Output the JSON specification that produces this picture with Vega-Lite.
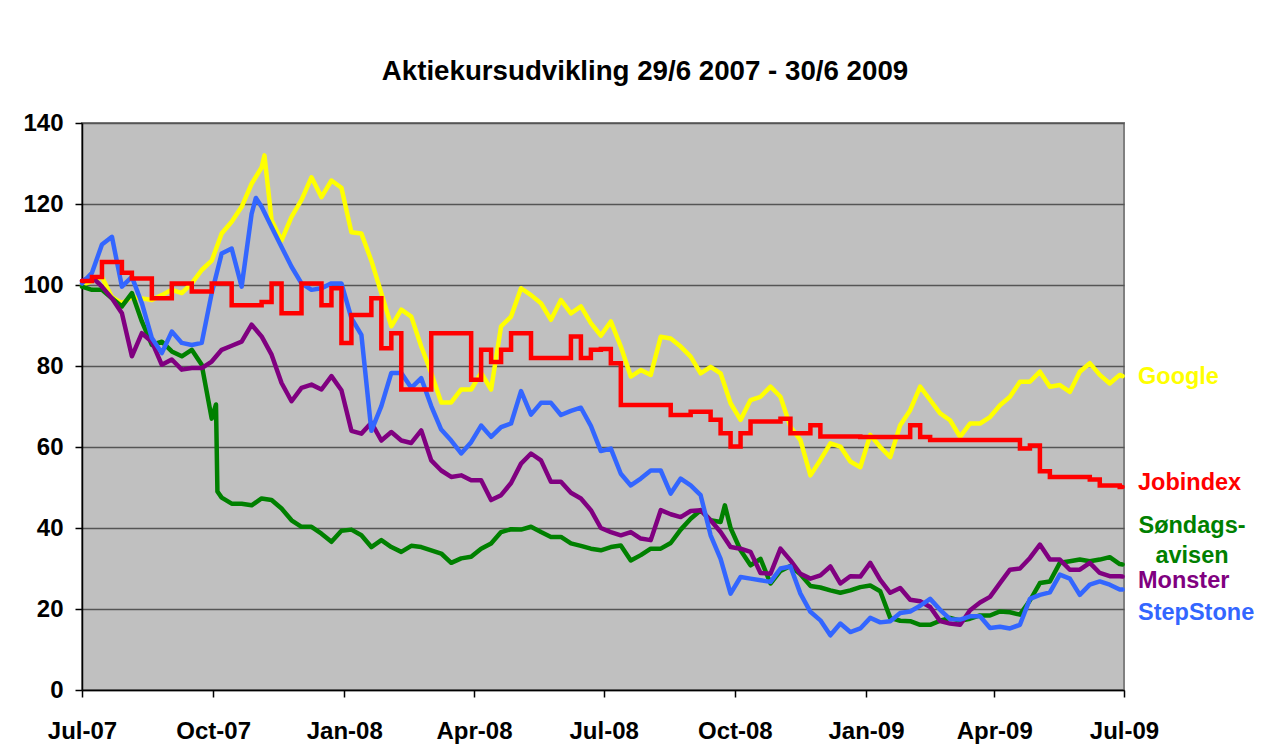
{
  "$schema": "https://vega.github.io/schema/vega-lite/v6.json",
  "width": 1042,
  "height": 567,
  "autosize": {"type": "none"},
  "padding": {"left": 82, "top": 123, "right": 147, "bottom": 65},
  "background": "white",
  "title": {"text": "Aktiekursudvikling 29/6 2007 - 30/6 2009", "font": "Liberation Sans", "fontSize": 27.7, "fontWeight": "bold", "color": "black", "anchor": "middle", "frame": "group", "dx": 42, "offset": 3, "baseline": "alphabetic"},
  "config": {
    "view": {"fill": "#C0C0C0", "stroke": "#808080", "strokeWidth": 2},
    "axis": {"labelFont": "Liberation Sans", "labelFontSize": 24, "labelFontWeight": "bold", "labelColor": "black", "domainColor": "black", "domainWidth": 1.5, "tickColor": "black", "tickWidth": 1.5, "tickSize": 7, "title": null}
  },
  "datasets": {
    "prices": [
      {"d": "2007-07-01", "G": 100, "J": 101, "S": 99.6, "M": 101, "T": 100.4},
      {"d": "2007-07-08", "G": 101, "J": 102, "S": 98.8, "M": 102, "T": 103},
      {"d": "2007-07-15", "G": 102, "J": 105.7, "S": 98.8, "M": 99.6, "T": 110},
      {"d": "2007-07-22", "G": 97, "J": 105.7, "S": 96.7, "M": 96.7, "T": 111.9},
      {"d": "2007-07-29", "G": 95.5, "J": 103, "S": 94.7, "M": 93, "T": 99.6},
      {"d": "2007-08-05", "G": 97, "J": 101.6, "S": 98, "M": 82.4, "T": 102},
      {"d": "2007-08-12", "G": 96.7, "J": 101.6, "S": 91, "M": 88.1, "T": 95.5},
      {"d": "2007-08-19", "G": 96.3, "J": 96.7, "S": 85.2, "M": 86, "T": 86.9},
      {"d": "2007-08-26", "G": 97.5, "J": 96.7, "S": 86, "M": 80.3, "T": 83.2},
      {"d": "2007-09-02", "G": 98.8, "J": 100.4, "S": 83.6, "M": 81.6, "T": 88.5},
      {"d": "2007-09-09", "G": 98, "J": 100.4, "S": 82.4, "M": 79.1, "T": 85.7},
      {"d": "2007-09-16", "G": 100.4, "J": 98.4, "S": 84, "M": 79.5, "T": 85.2},
      {"d": "2007-09-23", "G": 103.7, "J": 98.4, "S": 80.3, "M": 79.5, "T": 85.7},
      {"d": "2007-09-30", "G": 106, "J": 100.4, "S": 67, "M": 81.1, "T": 98},
      {"d": "2007-10-03", "S": 70.5},
      {"d": "2007-10-04", "S": 49},
      {"d": "2007-10-07", "G": 112.7, "J": 100.4, "S": 47.5, "M": 84, "T": 107.8},
      {"d": "2007-10-14", "G": 115.6, "J": 95, "S": 46, "M": 85, "T": 109},
      {"d": "2007-10-21", "G": 119.3, "J": 95, "S": 46, "M": 86, "T": 99.6},
      {"d": "2007-10-28", "G": 125, "J": 95, "S": 45.6, "M": 90.2, "T": 117.6},
      {"d": "2007-10-31", "T": 121.5},
      {"d": "2007-11-04", "G": 129, "J": 95.8, "S": 47.3, "M": 87.3, "T": 119.3},
      {"d": "2007-11-06", "G": 132},
      {"d": "2007-11-11", "G": 116, "J": 100.4, "S": 46.9, "M": 82.8, "T": 114.3},
      {"d": "2007-11-18", "G": 111, "J": 93, "S": 44.8, "M": 75.8, "T": 109.4},
      {"d": "2007-11-25", "G": 116.8, "J": 93, "S": 41.9, "M": 71.3, "T": 104.5},
      {"d": "2007-12-02", "G": 121, "J": 100.4, "S": 40.3, "M": 74.6, "T": 100.4},
      {"d": "2007-12-09", "G": 126.6, "J": 100.4, "S": 40.3, "M": 75.4, "T": 98.8},
      {"d": "2007-12-16", "G": 121.7, "J": 95, "S": 38.6, "M": 74.2, "T": 99.2},
      {"d": "2007-12-23", "G": 125.8, "J": 99.2, "S": 36.6, "M": 77.5, "T": 100.4},
      {"d": "2007-12-30", "G": 124, "J": 85.7, "S": 39.3, "M": 74, "T": 100.4},
      {"d": "2008-01-06", "G": 113, "J": 92.6, "S": 39.6, "M": 64, "T": 91.8},
      {"d": "2008-01-13", "G": 112.7, "J": 92.6, "S": 38.2, "M": 63.3, "T": 87.7},
      {"d": "2008-01-20", "G": 106, "J": 96.7, "S": 35.3, "M": 66, "T": 64},
      {"d": "2008-01-27", "G": 98, "J": 84.4, "S": 37, "M": 61.6, "T": 70.1},
      {"d": "2008-02-03", "G": 89.8, "J": 88.1, "S": 35.3, "M": 63.7, "T": 78.3},
      {"d": "2008-02-10", "G": 93.9, "J": 74.2, "S": 34.1, "M": 61.6, "T": 78.3},
      {"d": "2008-02-17", "G": 92.2, "J": 74.2, "S": 35.6, "M": 61, "T": 74.6},
      {"d": "2008-02-24", "G": 84.8, "J": 74.2, "S": 35.3, "M": 64.1, "T": 77},
      {"d": "2008-03-02", "G": 78.3, "J": 88.1, "S": 34.5, "M": 56.7, "T": 70.1},
      {"d": "2008-03-09", "G": 71, "J": 88.1, "S": 33.7, "M": 54.2, "T": 64.3},
      {"d": "2008-03-16", "G": 71, "J": 88.1, "S": 31.4, "M": 52.6, "T": 61.6},
      {"d": "2008-03-23", "G": 74.2, "J": 88.1, "S": 32.5, "M": 53, "T": 58.4},
      {"d": "2008-03-30", "G": 74.2, "J": 76.6, "S": 32.9, "M": 51.8, "T": 61.2},
      {"d": "2008-04-06", "G": 78.3, "J": 84, "S": 34.9, "M": 51.8, "T": 65.3},
      {"d": "2008-04-13", "G": 74.2, "J": 81, "S": 36.2, "M": 46.9, "T": 62.5},
      {"d": "2008-04-20", "G": 89.8, "J": 84, "S": 39, "M": 48.1, "T": 64.9},
      {"d": "2008-04-27", "G": 92.2, "J": 88.1, "S": 39.7, "M": 51.1, "T": 65.8},
      {"d": "2008-05-04", "G": 99.2, "J": 88.1, "S": 39.6, "M": 55.9, "T": 73.8},
      {"d": "2008-05-11", "G": 97.5, "J": 82, "S": 40.3, "M": 58.4, "T": 68},
      {"d": "2008-05-18", "G": 95.5, "J": 82, "S": 39, "M": 56.7, "T": 70.9},
      {"d": "2008-05-25", "G": 91.4, "J": 82, "S": 37.8, "M": 51.4, "T": 70.9},
      {"d": "2008-06-01", "G": 96.3, "J": 82, "S": 37.8, "M": 51.4, "T": 67.9},
      {"d": "2008-06-08", "G": 93, "J": 87.3, "S": 36.2, "M": 48.7, "T": 68.9},
      {"d": "2008-06-15", "G": 94.7, "J": 82, "S": 35.6, "M": 47.3, "T": 69.7},
      {"d": "2008-06-22", "G": 90.6, "J": 84, "S": 34.9, "M": 44.4, "T": 65.2},
      {"d": "2008-06-29", "G": 87.5, "J": 84.2, "S": 34.5, "M": 40, "T": 59},
      {"d": "2008-07-06", "G": 91, "J": 80.7, "S": 35.3, "M": 39, "T": 59.6},
      {"d": "2008-07-13", "G": 84.8, "J": 70.4, "S": 35.7, "M": 38.2, "T": 53.4},
      {"d": "2008-07-20", "G": 77.4, "J": 70.4, "S": 32, "M": 39, "T": 50.5},
      {"d": "2008-07-27", "G": 79, "J": 70.4, "S": 33.3, "M": 37.4, "T": 52.2},
      {"d": "2008-08-03", "G": 77.8, "J": 70.4, "S": 34.9, "M": 37, "T": 54.2},
      {"d": "2008-08-10", "G": 87.2, "J": 70.4, "S": 34.9, "M": 44.4, "T": 54.2},
      {"d": "2008-08-17", "G": 86.8, "J": 67.9, "S": 36.3, "M": 43.4, "T": 48.5},
      {"d": "2008-08-24", "G": 84.8, "J": 67.9, "S": 39.6, "M": 42.7, "T": 52.2},
      {"d": "2008-08-31", "G": 82.3, "J": 68.7, "S": 42.3, "M": 44.2, "T": 50.5},
      {"d": "2008-09-07", "G": 78.2, "J": 68.7, "S": 44.4, "M": 44.4, "T": 48.1},
      {"d": "2008-09-14", "G": 79.8, "J": 66.7, "S": 41.9, "M": 41.9, "T": 38.2},
      {"d": "2008-09-21", "G": 78.2, "J": 63.4, "S": 41.5, "M": 39, "T": 32.4},
      {"d": "2008-09-24", "S": 45.6},
      {"d": "2008-09-28", "G": 70.8, "J": 60.1, "S": 40, "M": 35.3, "T": 23.8},
      {"d": "2008-10-05", "G": 66.7, "J": 63.4, "S": 34.5, "M": 34.9, "T": 27.9},
      {"d": "2008-10-12", "G": 71.6, "J": 66.3, "S": 30.8, "M": 34.1, "T": 27.5},
      {"d": "2008-10-19", "G": 72.4, "J": 66.3, "S": 32.4, "M": 28.9, "T": 27.1},
      {"d": "2008-10-26", "G": 74.9, "J": 66.3, "S": 26.3, "M": 28.7, "T": 26.7},
      {"d": "2008-11-02", "G": 72.4, "J": 67, "S": 29.4, "M": 34.9, "T": 30},
      {"d": "2008-11-09", "G": 65, "J": 63.4, "S": 30.6, "M": 32, "T": 30.5},
      {"d": "2008-11-16", "G": 61.7, "J": 63.4, "S": 28.6, "M": 28.7, "T": 23.8},
      {"d": "2008-11-23", "G": 53, "J": 65.4, "S": 25.7, "M": 27.5, "T": 19.3},
      {"d": "2008-11-30", "G": 56.8, "J": 62.6, "S": 25.3, "M": 28.3, "T": 17.2},
      {"d": "2008-12-07", "G": 60.9, "J": 62.6, "S": 24.6, "M": 30.5, "T": 13.5},
      {"d": "2008-12-14", "G": 60.1, "J": 62.6, "S": 24, "M": 26.3, "T": 16.4},
      {"d": "2008-12-21", "G": 56.4, "J": 62.6, "S": 24.6, "M": 28.1, "T": 14.3},
      {"d": "2008-12-28", "G": 55, "J": 62.5, "S": 25.4, "M": 28, "T": 15.2},
      {"d": "2009-01-04", "G": 63, "J": 62.5, "S": 25.8, "M": 31.4, "T": 17.8},
      {"d": "2009-01-11", "G": 60, "J": 62.5, "S": 24.4, "M": 27.2, "T": 16.7},
      {"d": "2009-01-18", "G": 57.5, "J": 62.5, "S": 17.8, "M": 24, "T": 17},
      {"d": "2009-01-25", "G": 65.4, "J": 62.5, "S": 17.1, "M": 25.2, "T": 19},
      {"d": "2009-02-01", "G": 69.1, "J": 65.4, "S": 17, "M": 22.3, "T": 19.4},
      {"d": "2009-02-08", "G": 74.9, "J": 62.5, "S": 16.1, "M": 21.9, "T": 20.8},
      {"d": "2009-02-15", "G": 71.6, "J": 61.7, "S": 16.1, "M": 20.5, "T": 22.5},
      {"d": "2009-02-22", "G": 68.3, "J": 61.7, "S": 17.1, "M": 17, "T": 19.8},
      {"d": "2009-03-01", "G": 66.6, "J": 61.7, "S": 17.8, "M": 16.4, "T": 17.5},
      {"d": "2009-03-08", "G": 62.5, "J": 61.7, "S": 17.1, "M": 16.1, "T": 17.4},
      {"d": "2009-03-15", "G": 65.8, "J": 61.7, "S": 17.6, "M": 19.7, "T": 18.2},
      {"d": "2009-03-22", "G": 65.8, "J": 61.7, "S": 18.4, "M": 21.6, "T": 18.2},
      {"d": "2009-03-29", "G": 67.4, "J": 61.7, "S": 18.4, "M": 23, "T": 15.3},
      {"d": "2009-04-05", "G": 70.3, "J": 61.7, "S": 19.4, "M": 26.4, "T": 15.6},
      {"d": "2009-04-12", "G": 72.4, "J": 61.7, "S": 19.2, "M": 29.7, "T": 15.2},
      {"d": "2009-04-19", "G": 76.1, "J": 59.6, "S": 18.6, "M": 30, "T": 16.1},
      {"d": "2009-04-26", "G": 76.1, "J": 60.4, "S": 22.1, "M": 32.6, "T": 22.5},
      {"d": "2009-05-03", "G": 78.6, "J": 54, "S": 26.4, "M": 35.9, "T": 23.5},
      {"d": "2009-05-10", "G": 74.9, "J": 52.6, "S": 26.8, "M": 32.2, "T": 24.1},
      {"d": "2009-05-17", "G": 75.3, "J": 52.6, "S": 31.4, "M": 32.2, "T": 28.5},
      {"d": "2009-05-24", "G": 73.6, "J": 52.6, "S": 31.8, "M": 29.7, "T": 27.5},
      {"d": "2009-05-31", "G": 78.6, "J": 52.6, "S": 32.2, "M": 29.7, "T": 23.5},
      {"d": "2009-06-07", "G": 80.7, "J": 52, "S": 31.8, "M": 31.4, "T": 26},
      {"d": "2009-06-14", "G": 77.8, "J": 50.5, "S": 32.2, "M": 28.9, "T": 26.8},
      {"d": "2009-06-21", "G": 75.7, "J": 50.5, "S": 32.8, "M": 28.1, "T": 26},
      {"d": "2009-06-28", "G": 77.8, "J": 50.1, "S": 31.1, "M": 28.1, "T": 24.8},
      {"d": "2009-06-30", "G": 77.5, "J": 50.1, "S": 31, "M": 28, "T": 24.8}
    ],
    "labels": [
      {"d": "2009-07-01", "v": 77.3, "t": "Google", "key": "G"},
      {"d": "2009-07-01", "v": 51.1, "t": "Jobindex", "key": "J"},
      {"d": "2009-07-01", "v": 26.9, "t": "Monster", "key": "M"},
      {"d": "2009-07-01", "v": 19.0, "t": "StepStone", "key": "T"}
    ],
    "labels2": [
      {"d": "2009-07-01", "v": 40.4, "t": "Søndags-", "key": "S"},
      {"d": "2009-07-01", "v": 33.1, "t": "avisen", "key": "S"}
    ]
  },
  "encoding": {
    "x": {
      "field": "d", "type": "temporal",
      "scale": {"type": "utc", "domain": [{"year": 2007, "month": 7, "date": 1, "utc": true}, {"year": 2009, "month": 7, "date": 1, "utc": true}]},
      "axis": {
        "values": [
          {"year": 2007, "month": 7, "date": 1, "utc": true},
          {"year": 2007, "month": 10, "date": 1, "utc": true},
          {"year": 2008, "month": 1, "date": 1, "utc": true},
          {"year": 2008, "month": 4, "date": 1, "utc": true},
          {"year": 2008, "month": 7, "date": 1, "utc": true},
          {"year": 2008, "month": 10, "date": 1, "utc": true},
          {"year": 2009, "month": 1, "date": 1, "utc": true},
          {"year": 2009, "month": 4, "date": 1, "utc": true},
          {"year": 2009, "month": 7, "date": 1, "utc": true}
        ],
        "labelExpr": "utcFormat(datum.value, '%b-%y')", "grid": false, "labelAngle": 0, "labelPadding": 22, "labelFlush": false, "labelOverlap": false
      }
    },
    "color": {"field": "key", "type": "nominal", "scale": {"domain": ["G", "J", "S", "M", "T"], "range": ["#FFFF00", "#FF0000", "#008000", "#800080", "#3366FF"]}, "legend": null}
  },
  "layer": [
    {
      "data": {"name": "prices"},
      "transform": [{"fold": ["G", "S", "M", "T"]}, {"filter": "isValid(datum.value)"}],
      "mark": {"type": "line", "strokeWidth": 4.5, "strokeJoin": "round", "strokeCap": "round"},
      "encoding": {
        "y": {"field": "value", "type": "quantitative", "scale": {"domain": [0, 140], "nice": false}, "axis": {"values": [0, 20, 40, 60, 80, 100, 120, 140], "grid": true, "gridColor": "#555555", "gridWidth": 1.5, "labelPadding": 12}}
      }
    },
    {
      "data": {"name": "prices"},
      "transform": [{"fold": ["J"]}, {"filter": "isValid(datum.value)"}],
      "mark": {"type": "line", "strokeWidth": 4.5, "interpolate": "step-after", "strokeCap": "round"},
      "encoding": {"y": {"field": "value", "type": "quantitative"}}
    },
    {
      "data": {"name": "labels"},
      "mark": {"type": "text", "align": "left", "baseline": "middle", "dx": 14, "font": "Liberation Sans", "fontSize": 23.5, "fontWeight": "bold"},
      "encoding": {"y": {"field": "v", "type": "quantitative"}, "text": {"field": "t"}}
    },
    {
      "data": {"name": "labels2"},
      "mark": {"type": "text", "align": "center", "baseline": "middle", "dx": 68, "font": "Liberation Sans", "fontSize": 23.5, "fontWeight": "bold"},
      "encoding": {"y": {"field": "v", "type": "quantitative"}, "text": {"field": "t"}}
    }
  ]
}
